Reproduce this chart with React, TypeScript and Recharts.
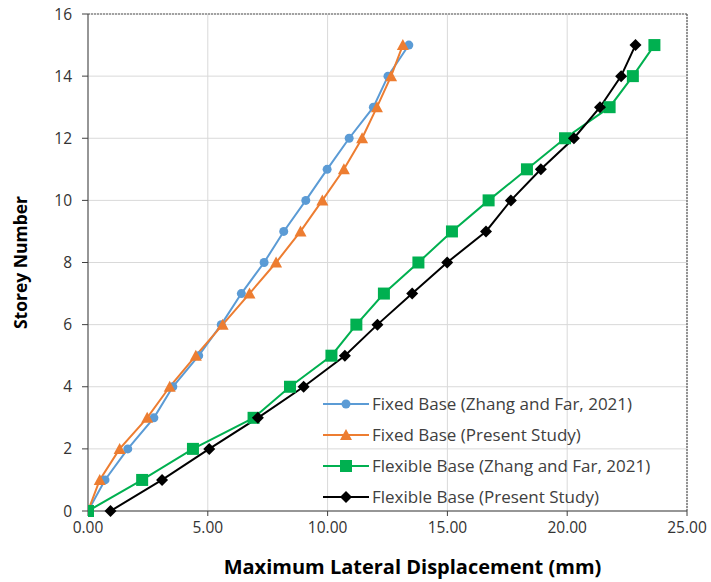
import {
  CartesianGrid,
  ComposedChart,
  Legend,
  Line,
  ReferenceLine,
  XAxis,
  YAxis
} from "recharts";

const storeys = [0, 1, 2, 3, 4, 5, 6, 7, 8, 9, 10, 11, 12, 13, 14, 15];
const fixedBaseZhang = [0, 0.71, 1.66, 2.75, 3.54, 4.62, 5.56, 6.4, 7.35, 8.17, 9.09, 9.98, 10.9, 11.91, 12.52, 13.39];
const fixedBasePresent = [0, 0.49, 1.32, 2.47, 3.41, 4.5, 5.62, 6.74, 7.85, 8.87, 9.78, 10.68, 11.44, 12.06, 12.65, 13.14];
const flexibleBaseZhang = [0, 2.26, 4.38, 6.91, 8.43, 10.16, 11.2, 12.35, 13.79, 15.19, 16.72, 18.32, 19.91, 21.77, 22.74, 23.64];
const flexibleBasePresent = [0.94, 3.09, 5.06, 7.09, 9.0, 10.72, 12.08, 13.53, 14.99, 16.61, 17.65, 18.9, 20.28, 21.37, 22.25, 22.85];

const xTicks = [0, 5, 10, 15, 20, 25];
const yTicks = [0, 2, 4, 6, 8, 10, 12, 14, 16];

type Shape = "circle" | "triangle" | "square" | "diamond";

const series = [
  { key: "fixedZhang", label: "Fixed Base (Zhang and Far, 2021)", color: "#5b9bd5", shape: "circle" as Shape, values: fixedBaseZhang },
  { key: "fixedPresent", label: "Fixed Base (Present Study)", color: "#ed7d31", shape: "triangle" as Shape, values: fixedBasePresent },
  { key: "flexZhang", label: "Flexible Base (Zhang and Far, 2021)", color: "#00b050", shape: "square" as Shape, values: flexibleBaseZhang },
  { key: "flexPresent", label: "Flexible Base (Present Study)", color: "#000000", shape: "diamond" as Shape, values: flexibleBasePresent }
];

const FONT = "'Open Sans', sans-serif";

const toPoints = (values: number[]) => values.map((x, i) => ({ x, y: storeys[i] }));

function Marker({ shape, color, cx, cy }: { shape: Shape; color: string; cx: number; cy: number }) {
  if (shape === "circle") return <circle cx={cx} cy={cy} r={4.5} fill={color} />;
  if (shape === "triangle")
    return <polygon points={`${cx},${cy - 6} ${cx + 6},${cy + 5} ${cx - 6},${cy + 5}`} fill={color} />;
  if (shape === "square") return <rect x={cx - 6} y={cy - 6} width={12} height={12} fill={color} />;
  return <polygon points={`${cx},${cy - 6} ${cx + 6},${cy} ${cx},${cy + 6} ${cx - 6},${cy}`} fill={color} />;
}

function LegendContent() {
  return (
    <div style={{ fontFamily: FONT, fontSize: 17, color: "#404040", lineHeight: "31px" }}>
      {series.map((s) => (
        <div key={s.key} style={{ display: "flex", alignItems: "center", height: 31, whiteSpace: "nowrap" }}>
          <svg width={46} height={16} style={{ marginRight: 3, flex: "none" }}>
            <line x1={0} y1={8} x2={46} y2={8} stroke={s.color} strokeWidth={2} />
            <Marker shape={s.shape} color={s.color} cx={23} cy={8} />
          </svg>
          <span>{s.label}</span>
        </div>
      ))}
    </div>
  );
}

export default function App() {
  return (
    <div style={{ position: "absolute", left: 0, top: 0, fontFamily: FONT }}>
      <ComposedChart width={711} height={582} margin={{ top: 14, right: 24, bottom: 0, left: 0 }} style={{ fontFamily: FONT }}>
        <CartesianGrid stroke="#d9d9d9" strokeWidth={1} />
        <XAxis
          dataKey="x"
          type="number"
          domain={[0, 25]}
          ticks={xTicks}
          allowDataOverflow
          tickFormatter={(v: number) => v.toFixed(2)}
          height={71}
          tickSize={5}
          tickMargin={6}
          stroke="#404040"
          tick={{ fill: "#333333", fontSize: 15.5 }}
          label={{ value: "Maximum Lateral Displacement (mm)", position: "insideBottom", offset: 8, dx: 25, fill: "#000", fontSize: 20, fontWeight: 700 }}
        />
        <YAxis
          dataKey="y"
          type="number"
          domain={[0, 16]}
          ticks={yTicks}
          width={88}
          tickSize={6}
          tickMargin={10}
          stroke="#404040"
          tick={{ fill: "#333333", fontSize: 15.5 }}
          label={{ value: "Storey Number", angle: -90, position: "insideLeft", offset: 21, fill: "#000", fontSize: 17.5, fontWeight: 700, style: { textAnchor: "middle" } }}
        />
        <ReferenceLine y={16} stroke="#595959" strokeDasharray="2 1" strokeWidth={1.2} />
        <ReferenceLine x={25} stroke="#595959" strokeDasharray="2 1" strokeWidth={1.2} />
        {series.map((s) => (
          <Line
            key={s.key}
            data={toPoints(s.values)}
            dataKey="y"
            name={s.label}
            stroke={s.color}
            strokeWidth={2}
            isAnimationActive={false}
            dot={(p: any) => <Marker key={`${s.key}-${p.index}`} shape={s.shape} color={s.color} cx={p.cx} cy={p.cy} />}
            activeDot={false}
          />
        ))}
        <Legend
          layout="horizontal"
          verticalAlign="middle"
          align="center"
          content={() => <LegendContent />}
          wrapperStyle={{ position: "absolute", left: 323, top: 388, width: 385, height: 124 }}
        />
      </ComposedChart>
    </div>
  );
}
